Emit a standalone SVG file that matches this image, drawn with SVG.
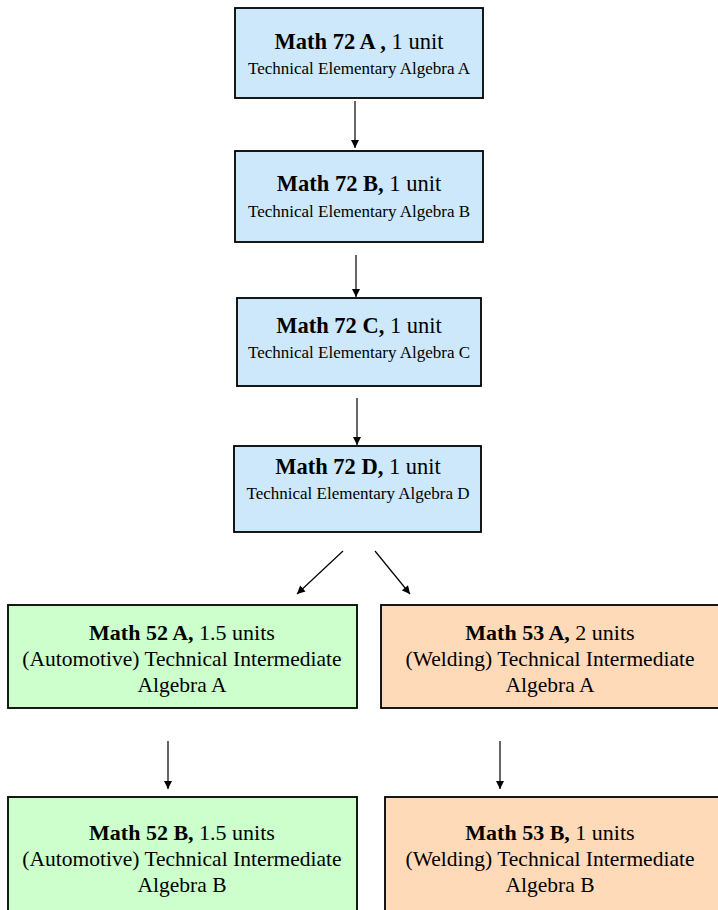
<svg xmlns="http://www.w3.org/2000/svg" width="718" height="910" viewBox="0 0 718 910">
<defs>
<marker id="ah" viewBox="0 0 10 10" refX="10" refY="5" markerWidth="9" markerHeight="8" markerUnits="userSpaceOnUse" orient="auto">
<path d="M0,0 L10,5 L0,10 z" fill="#000"/>
</marker>
<style>
.box{stroke:#000;stroke-width:1.8}
.blue{fill:#CCE8FA}
.green{fill:#CCFFCC}
.orange{fill:#FFDAB9}
text{font-family:"Liberation Serif","Times New Roman",serif;fill:#000;text-anchor:middle}
.t{font-size:22.5px}
.s{font-size:17px}
.t2{font-size:22px}
.s2{font-size:21.5px}
.b{font-weight:bold}
.c line{stroke:#000;stroke-width:1.2;marker-end:url(#ah)}
</style>
</defs>
<rect width="718" height="910" fill="#fff"/>
<g id="m72a"><rect class="box blue" x="235" y="8" width="248" height="90"/>
<text class="t" x="359" y="49"><tspan class="b">Math 72 A ,</tspan> 1 unit</text>
<text class="s" x="359" y="74">Technical Elementary Algebra A</text></g>
<g id="m72b"><rect class="box blue" x="235" y="151" width="248" height="91"/>
<text class="t" x="359" y="191"><tspan class="b">Math 72 B,</tspan> 1 unit</text>
<text class="s" x="359" y="217">Technical Elementary Algebra B</text></g>
<g id="m72c"><rect class="box blue" x="237" y="298" width="244" height="88"/>
<text class="t" x="359" y="333"><tspan class="b">Math 72 C,</tspan> 1 unit</text>
<text class="s" x="359" y="358">Technical Elementary Algebra C</text></g>
<g id="m72d"><rect class="box blue" x="234" y="446" width="247" height="86"/>
<text class="t" x="358" y="474"><tspan class="b">Math 72 D,</tspan> 1 unit</text>
<text class="s" x="358" y="499">Technical Elementary Algebra D</text></g>
<g id="m52a"><rect class="box green" x="8" y="605" width="349" height="103"/>
<text class="t2" x="182" y="640"><tspan class="b">Math 52 A,</tspan> 1.5 units</text>
<text class="s2" x="182" y="666">(Automotive) Technical Intermediate</text>
<text class="s2" x="182" y="692">Algebra A</text></g>
<g id="m53a"><rect class="box orange" x="381" y="605" width="345" height="103"/>
<text class="t2" x="550" y="640"><tspan class="b">Math 53 A,</tspan> 2 units</text>
<text class="s2" x="550" y="666">(Welding) Technical Intermediate</text>
<text class="s2" x="550" y="692">Algebra A</text></g>
<g id="m52b"><rect class="box green" x="8" y="797" width="349" height="125"/>
<text class="t2" x="182" y="840"><tspan class="b">Math 52 B,</tspan> 1.5 units</text>
<text class="s2" x="182" y="866">(Automotive) Technical Intermediate</text>
<text class="s2" x="182" y="892">Algebra B</text></g>
<g id="m53b"><rect class="box orange" x="385" y="797" width="345" height="125"/>
<text class="t2" x="550" y="840"><tspan class="b">Math 53 B,</tspan> 1 units</text>
<text class="s2" x="550" y="866">(Welding) Technical Intermediate</text>
<text class="s2" x="550" y="892">Algebra B</text></g>
<g class="c" id="connectors">
<line x1="355" y1="101" x2="355" y2="148"/>
<line x1="356" y1="255" x2="356" y2="297"/>
<line x1="357" y1="398" x2="357" y2="445"/>
<line x1="343" y1="551" x2="297" y2="594"/>
<line x1="375" y1="551" x2="410" y2="594"/>
<line x1="168" y1="741" x2="168" y2="789"/>
<line x1="500" y1="741" x2="500" y2="789"/>
</g>
</svg>
